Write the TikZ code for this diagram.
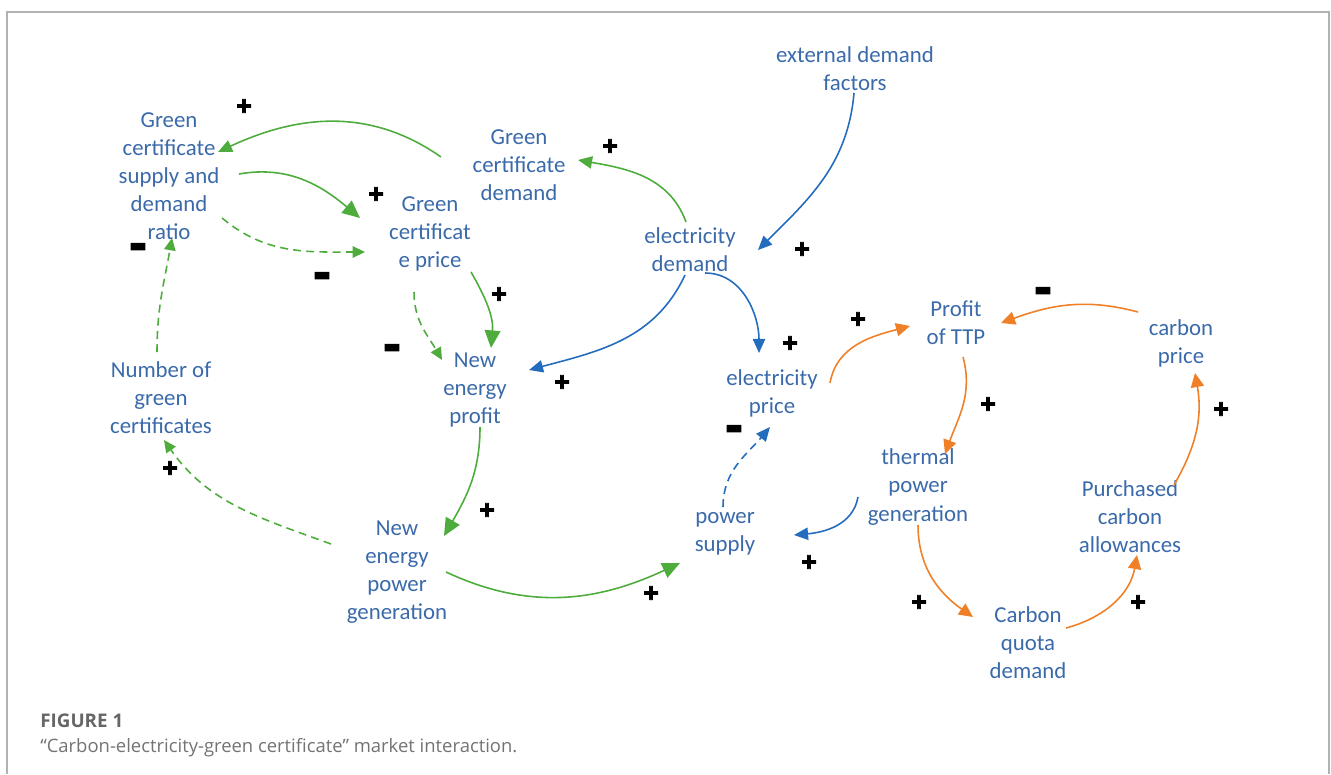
\documentclass[tikz,border=0pt]{standalone}
\usepackage{fontspec}
\usepackage{graphicx}
\setmainfont{Carlito}
\newfontfamily\capfont{Open Sans}
\newfontfamily\signfont[FakeBold=3]{Liberation Sans Bold}
\usetikzlibrary{arrows.meta, calc}

\definecolor{vartext}{RGB}{58,106,170}
\definecolor{loopgreen}{RGB}{77,172,60}
\definecolor{loopblue}{RGB}{36,108,190}
\definecolor{looporange}{RGB}{240,128,40}
\definecolor{framegray}{RGB}{178,178,178}

% heavy minus for the negative links
\newcommand{\negsign}{\scalebox{1.05}[2.2]{–}}

\tikzset{
  var/.style = {align=center, text=vartext, inner sep=0pt,
    font=\fontsize{13}{16}\selectfont},
  sign/.style = {inner sep=0pt, font=\signfont\fontsize{15}{15}\selectfont},
  neg/.style = {sign, yshift=-4pt},
  glink/.style = {draw=loopgreen, line width=0.9pt,
    -{Triangle[length=10pt, width=9pt]}},
  gthin/.style = {draw=loopgreen, line width=0.9pt,
    -{Triangle[length=8pt, width=7pt]}},
  gdash/.style = {draw=loopgreen, line width=0.9pt, dash pattern=on 4.5pt off 3pt,
    -{Triangle[length=7pt, width=6.5pt]}},
  blink/.style = {draw=loopblue, line width=0.9pt,
    -{Triangle[length=8pt, width=7pt]}},
  bdash/.style = {blink, dash pattern=on 4.5pt off 3pt},
  olink/.style = {draw=looporange, line width=0.9pt,
    -{Triangle[length=8pt, width=7.5pt]}}
}

\begin{document}
\begin{tikzpicture}[x=0.02cm, y=0.02cm]

  \useasboundingbox (0,0) rectangle (1331,-774);

  % frame
  \draw[framegray, line width=1pt] (7,-774) -- (7,-12) -- (1329,-12) -- (1329,-774);

  % variables
  \node[var] (ratio) at (169,-176) {Green\\certificate\\supply and\\demand\\ratio};
  \node[var] (gcd)   at (519,-165) {Green\\certificate\\demand};
  \node[var] (ext)   at (855,-69)  {external demand\\factors};
  \node[var] (gcp)   at (430,-234) {Green\\certificat\\e price};
  \node[var] (eld)   at (690,-250) {electricity\\demand};
  \node[var] (ngc)   at (161,-398) {Number of\\green\\certificates};
  \node[var] (nep)   at (475,-390) {New\\energy\\profit};
  \node[var] (elp)   at (772,-393) {electricity\\price};
  \node[var] (ptp)   at (956,-323) {Profit\\of TTP};
  \node[var] (cp)    at (1181,-343) {carbon\\price};
  \node[var] (tpg)   at (918,-487) {thermal\\power\\generation};
  \node[var] (pca)   at (1130,-517) {Purchased\\carbon\\allowances};
  \node[var] (ps)    at (725,-534) {power\\supply};
  \node[var] (nepg)  at (397,-572) {New\\energy\\power\\generation};
  \node[var] (cqd)   at (1028,-643) {Carbon\\quota\\demand};

  % green certificate loop
  \draw[gthin] ($(gcd)+(-78,8)$) to[out=145, in=25] ($(ratio)+(49,24)$);
  \draw[glink] ($(ratio)+(70,2)$) to[out=10, in=140] ($(gcp)+(-70,16)$);
  \draw[gdash] ($(ratio)+(53,-42)$) to[out=-40, in=180] ($(gcp)+(-65,-18)$);
  \draw[gdash] ($(ngc)+(-4,46)$) to[out=90, in=-100] ($(ratio)+(3,-62)$);
  \draw[gthin] ($(eld)+(-4,28)$) to[out=110, in=-10] ($(gcd)+(59,5)$);
  \draw[glink] ($(gcp)+(41,-38)$) to[out=-60, in=85] ($(nep)+(16,42)$);
  \draw[gdash] ($(gcp)+(-16,-58)$) to[out=-90, in=120] ($(nep)+(-33,30)$);
  \draw[glink] ($(nep)+(5,-37)$) to[out=-90, in=60] ($(nepg)+(47,36)$);
  \draw[gdash] ($(nepg)+(-66,28)$) to[out=160, in=-55] ($(ngc)+(3,-42)$);
  \draw[glink] ($(nepg)+(49,0)$) to[out=-25, in=205] ($(ps)+(-45,-29)$);

  % electricity market
  \draw[blink] ($(ext)+(-1,-24)$) to[out=-95, in=45] ($(eld)+(68,0)$);
  \draw[blink] ($(eld)+(-5,-25)$) to[out=-115, in=15] ($(nep)+(54,20)$);
  \draw[blink] ($(eld)+(15,-23)$) to[out=0, in=90] ($(elp)+(-13,40)$);
  \draw[bdash] ($(ps)+(-2,27)$) to[out=90, in=-130] ($(elp)+(-2,-34)$);
  \draw[blink] ($(tpg)+(-60,-10)$) to[out=-100, in=5] ($(ps)+(69,-1)$);

  % carbon market
  \draw[olink] ($(elp)+(58,10)$) to[out=80, in=195] ($(ptp)+(-46,-3)$);
  \draw[olink] ($(ptp)+(7,-34)$) to[out=-75, in=70] ($(tpg)+(27,33)$);
  \draw[olink] ($(cp)+(-43,31)$) to[out=165, in=20] ($(ptp)+(45,0)$);
  \draw[olink] ($(tpg)+(0,-38)$) to[out=-90, in=145] ($(cqd)+(-55,26)$);
  \draw[olink] ($(cqd)+(38,15)$) to[out=15, in=-100] ($(pca)+(7,-38)$);
  \draw[olink] ($(pca)+(44,32)$) to[out=60, in=-80] ($(cp)+(14,-30)$);

  % polarities
  \node[sign] (s1)  at (244,-107) {+};
  \node[sign] (s2)  at (376,-195) {+};
  \node[neg]  (s3)  at (322,-275) {\negsign};
  \node[neg]  (s4)  at (138,-246) {\negsign};
  \node[sign] (s5)  at (610,-147) {+};
  \node[sign] (s6)  at (802,-250) {+};
  \node[sign] (s7)  at (562,-383) {+};
  \node[sign] (s8)  at (790,-344) {+};
  \node[sign] (s9)  at (499,-295) {+};
  \node[neg]  (s10) at (392,-347) {\negsign};
  \node[sign] (s11) at (487,-511) {+};
  \node[sign] (s12) at (170,-469) {+};
  \node[sign] (s13) at (651,-594) {+};
  \node[neg]  (s14) at (734,-428) {\negsign};
  \node[sign] (s15) at (809,-563) {+};
  \node[sign] (s16) at (858,-320) {+};
  \node[sign] (s17) at (988,-405) {+};
  \node[neg]  (s18) at (1043,-290) {\negsign};
  \node[sign] (s19) at (919,-603) {+};
  \node[sign] (s20) at (1138,-603) {+};
  \node[sign] (s21) at (1221,-410) {+};

  % caption
  \node[anchor=base west, inner sep=0pt, text=black!60, font=\capfont\bfseries\fontsize{10.7}{12}\selectfont]
    (figno) at (40,-727) {FIGURE 1};
  \node[anchor=base west, inner sep=0pt, text=black!55, font=\capfont\fontsize{10.5}{12}\selectfont]
    (figcap) at (40,-752) {“Carbon-electricity-green certificate” market interaction.};

\end{tikzpicture}
\end{document}
